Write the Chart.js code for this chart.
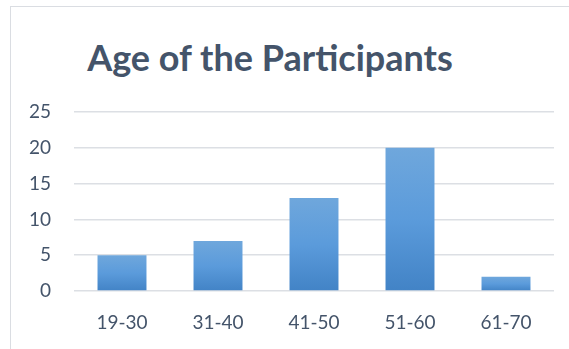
<!DOCTYPE html>
<html lang="en">
<head>
  <meta charset="UTF-8">
  <title>Age of the Participants</title>
  <script src="https://cdn.jsdelivr.net/npm/chart.js"></script>
  <style>
    html, body { margin: 0; padding: 0; background: #fff; overflow: hidden; }
    .wrap { position: relative; width: 569px; height: 349px; }
    .frame { position: absolute; left: 10px; top: 6px; width: 620px; height: 400px; border: 1px solid #dadde2; box-sizing: border-box; }
    .title { position: absolute; left: 0; top: 35px; width: 540px; text-align: center; font-family: Lato, sans-serif; font-weight: bold; font-size: 36px; line-height: 44px; color: #44546A; }
    canvas { position: absolute; left: 0; top: 0; }
  </style>
</head>
<body>
  <div class="wrap">
    <div class="frame"></div>
    <div class="title">Age of the Participants</div>
    <canvas id="chart" width="569" height="349"></canvas>
  </div>

  <script>
    // 年齢層と人数
    const ageGroups = ['19-30', '31-40', '41-50', '51-60', '61-70'];
    const participants = [5, 7, 13, 20, 2];
    const yTicks = [0, 5, 10, 15, 20, 25];

    // 棒ごとのグラデーション（上が明るく、下が濃い）
    function barFill(context) {
      const chart = context.chart;
      const y = chart.scales && chart.scales.y;
      if (!chart.chartArea || !y) return '#5b9bd5';
      const top = y.getPixelForValue(context.raw);
      const bottom = y.getPixelForValue(0);
      const g = chart.ctx.createLinearGradient(0, top, 0, bottom);
      g.addColorStop(0, '#6fa7dc');
      g.addColorStop(0.5, '#5b9bdb');
      g.addColorStop(1, '#4283c6');
      return g;
    }

    new Chart(document.getElementById('chart'), {
      type: 'bar',
      data: {
        labels: ageGroups,
        datasets: [{
          data: participants,
          backgroundColor: barFill,
          borderWidth: 0,
          categoryPercentage: 1,
          barPercentage: 0.51
        }]
      },
      options: {
        responsive: false,
        animation: false,
        layout: { padding: { left: 0, right: 15, top: 112, bottom: 0 } },
        plugins: {
          legend: { display: false },
          title: { display: false },
          tooltip: { enabled: false }
        },
        scales: {
          x: {
            grid: { display: false, drawTicks: false },
            border: { display: false },
            ticks: { color: '#44546A', font: { family: 'Lato', size: 19 }, padding: 20 },
            afterFit: s => { s.height = 58; }
          },
          y: {
            min: 0,
            max: 25,
            afterBuildTicks: s => { s.ticks = yTicks.map(v => ({ value: v })); },
            grid: { color: '#dcdfe4', lineWidth: 1.5, drawTicks: false },
            border: { display: false },
            ticks: { color: '#44546A', font: { family: 'Lato', size: 19 }, padding: 23 },
            afterFit: s => { s.width = 74; }
          }
        }
      }
    });
  </script>
</body>
</html>
